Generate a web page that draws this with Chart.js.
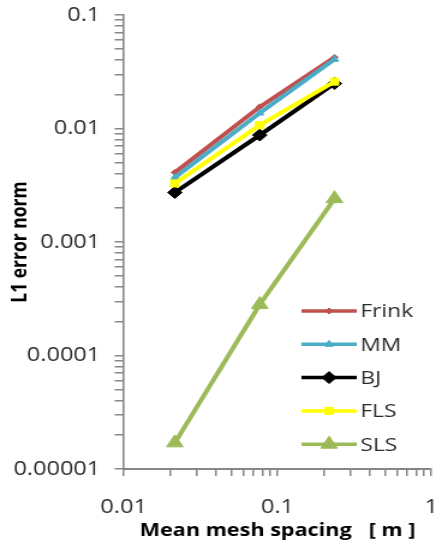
<!DOCTYPE html>
<html>
<head>
<meta charset="utf-8">
<script src="https://cdn.jsdelivr.net/npm/chart.js@4/dist/chart.umd.min.js"></script>
<style>
  html, body { margin: 0; padding: 0; background: #fff; overflow: hidden; }
  /* the original picture is stretched sideways, so draw narrow and widen */
  #wrap { width: 368px; height: 547px; transform: scaleX(1.2011); transform-origin: 0 0; }
</style>
</head>
<body>
<div id="wrap"><canvas id="chart"></canvas></div>
<script>
// data
const meshSpacing = [0.0215, 0.0767, 0.235];
const frink = [0.0041, 0.0155, 0.0423];
const mm    = [0.0037, 0.0137, 0.0407];
const bj    = [0.00273, 0.00875, 0.0249];
const fls   = [0.00328, 0.0107, 0.0259];
const sls   = [0.000017, 0.000281, 0.00241];

const yTickValues = [0.00001, 0.0001, 0.001, 0.01, 0.1];
const yTickLabels = ['0.00001', '0.0001', '0.001', '0.01', '0.1'];
const xTickValues = [0.01, 0.1, 1];
const xTickLabels = ['0.01', '0.1', '1'];

const tickFont = { family: '"Open Sans"', size: 19.6 };
const tickColor = '#2b2b2b';
const axisColor = '#868686';

// decade ticks plus the 2..9 minor ticks in between
function logTicks(decades) {
  const out = [];
  decades.forEach((d, i) => {
    if (i === decades.length - 1) { out.push(d); return; }
    for (let m = 1; m <= 9; m++) out.push(Number((m * d).toPrecision(6)));
  });
  return out.map(v => ({ value: v }));
}

function labelFor(values, labels) {
  return v => {
    const i = values.findIndex(d => Math.abs(v / d - 1) < 1e-6);
    return i < 0 ? '' : labels[i];
  };
}

const pts = arr => arr.map((y, i) => ({ x: meshSpacing[i], y }));

function series(label, data, color, style, radius, order) {
  return {
    label, data: pts(data), order,
    borderColor: color, backgroundColor: color,
    borderWidth: 4,
    pointStyle: style, pointRadius: radius,
    pointBackgroundColor: color, pointBorderColor: color, pointBorderWidth: 1,
    tension: 0, fill: false
  };
}

// legend drawn inside the plot, lower right
const insideLegend = {
  id: 'insideLegend',
  afterDraw(chart) {
    const { ctx, chartArea } = chart;
    const x0 = chartArea.left + 148, x1 = chartArea.left + 194, tx = chartArea.left + 197;
    let y = chartArea.top + 296;
    ctx.save();
    chart.data.datasets.forEach(ds => {
      ctx.strokeStyle = ds.borderColor;
      ctx.lineWidth = 3.5;
      ctx.beginPath(); ctx.moveTo(x0, y); ctx.lineTo(x1, y); ctx.stroke();
      ctx.fillStyle = ds.backgroundColor;
      ctx.lineWidth = 1;
      Chart.helpers.drawPoint(ctx, { pointStyle: ds.pointStyle, radius: ds.pointRadius, rotation: 0, borderWidth: 1 }, (x0 + x1) / 2, y);
      ctx.fillStyle = tickColor;
      ctx.font = '19px "Open Sans"';
      ctx.textBaseline = 'middle';
      ctx.textAlign = 'left';
      ctx.fillText(ds.label, tx, y + 1);
      y += 33.3;
    });
    ctx.restore();
  }
};

new Chart(document.getElementById('chart'), {
  type: 'line',
  data: {
    datasets: [
      series('Frink', frink, '#C0504D', 'rectRot', 3, 5),
      series('MM', mm, '#4BACC6', 'triangle', 4, 4),
      series('BJ', bj, '#000000', 'rectRot', 6, 3),
      series('FLS', fls, '#FFFF00', 'rect', 5, 2),
      series('SLS', sls, '#9BBB59', 'triangle', 8, 1)
    ]
  },
  options: {
    responsive: true,
    maintainAspectRatio: false,
    animation: false,
    layout: { padding: { top: 15, right: 1.5, left: 0, bottom: 0 } },
    plugins: { legend: { display: false }, tooltip: { enabled: false } },
    scales: {
      x: {
        type: 'logarithmic', position: 'bottom', min: 0.01, max: 1,
        afterBuildTicks: s => { s.ticks = logTicks(xTickValues); },
        afterFit: s => { s.height = 78; s.paddingLeft = 0; s.paddingRight = 0; },
        grid: { drawOnChartArea: false, drawTicks: true, tickLength: 7, color: axisColor, lineWidth: 1.5 },
        border: { color: axisColor, width: 2 },
        ticks: { autoSkip: false, maxRotation: 0, padding: 20, font: tickFont, color: tickColor,
                 callback: labelFor(xTickValues, xTickLabels) },
        title: { display: true, text: 'Mean mesh spacing   [ m ]', color: '#000',
                 font: { family: '"Open Sans"', size: 18, weight: 'bold' }, padding: { top: 0, bottom: 5 } }
      },
      y: {
        type: 'logarithmic', position: 'left', min: 0.00001, max: 0.1,
        afterBuildTicks: s => { s.ticks = logTicks(yTickValues); },
        afterFit: s => { s.width = 103; s.paddingTop = 0; s.paddingBottom = 0; },
        grid: { drawOnChartArea: false, drawTicks: true, tickLength: 7.5, color: axisColor, lineWidth: 1.5 },
        border: { color: axisColor, width: 1.6 },
        ticks: { autoSkip: false, padding: 12, font: tickFont, color: tickColor,
                 callback: labelFor(yTickValues, yTickLabels) },
        title: { display: true, text: 'L1 error norm', color: '#000',
                 font: { family: '"Open Sans"', size: 17.5, weight: 'bold' }, padding: { top: 7, bottom: 0 } }
      }
    }
  },
  plugins: [insideLegend]
});
</script>
</body>
</html>
